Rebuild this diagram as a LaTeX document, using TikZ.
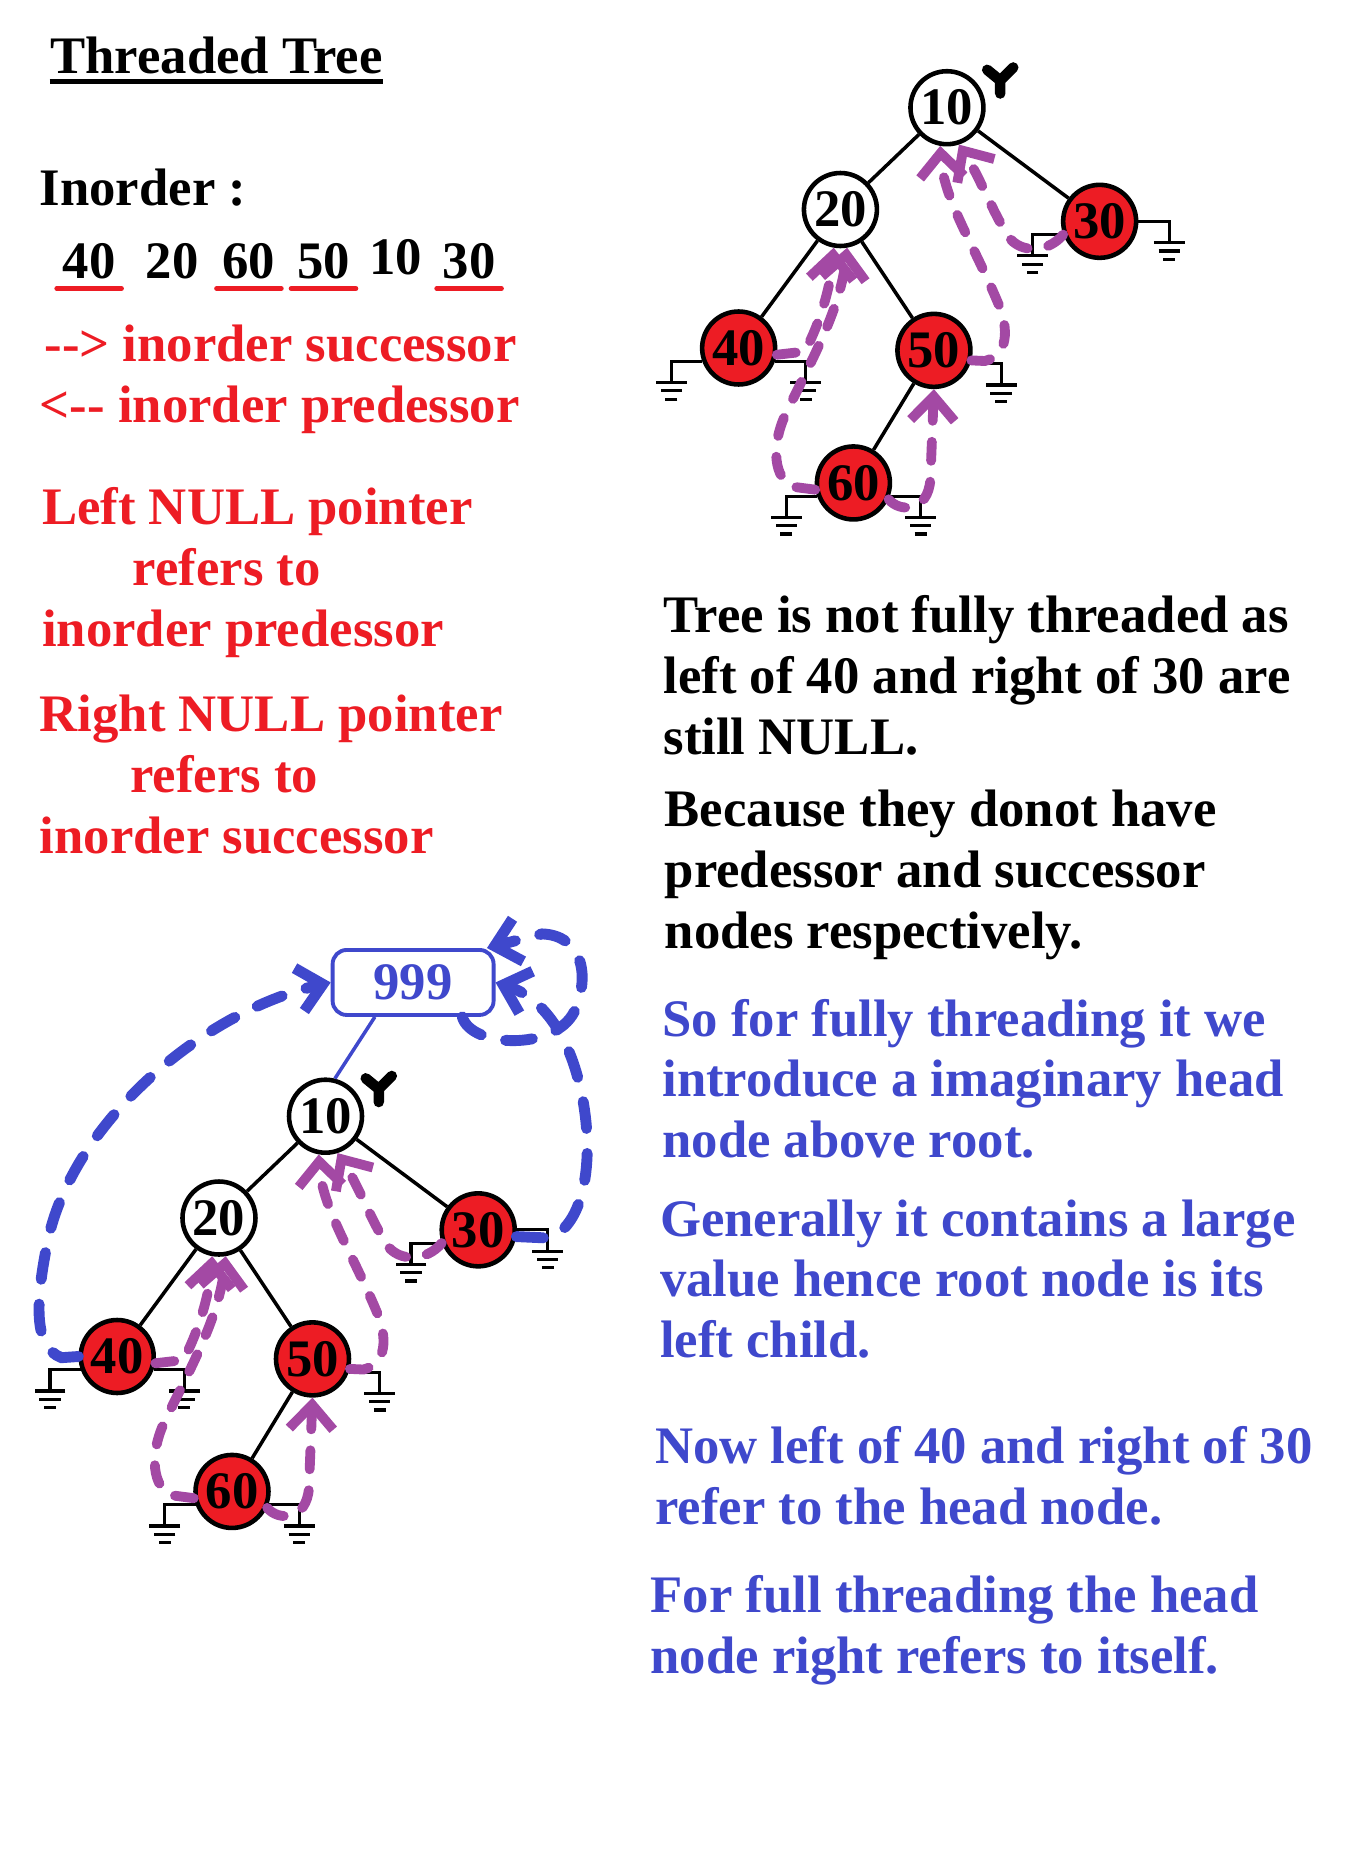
\documentclass[tikz,border=0pt]{standalone}
\usepackage{fontspec}
\setmainfont{Liberation Serif}
\usepackage{xcolor}
\usetikzlibrary{arrows.meta, positioning}

\definecolor{paintred}{HTML}{ED1C24}
\definecolor{paintblue}{HTML}{3F48CC}
\definecolor{paintpurple}{HTML}{A349A4}

\begin{document}
\begin{tikzpicture}[
    x=0.1184mm, y=-0.1184mm,
    font=\fontsize{15}{17.3}\selectfont\bfseries,
    whitenode/.style={circle, draw=black, line width=1.3pt, fill=white, minimum size=7.3mm, inner sep=0pt},
    rednode/.style={whitenode, fill=paintred},
    treeline/.style={draw=black, line width=1pt},
    thread/.style={draw=paintpurple, line width=2.8pt, line cap=round, dash pattern=on 1.9mm off 2.1mm, -{Straight Barb[length=2.4mm, width=4.4mm]}},
    headthread/.style={thread, draw=paintblue, line width=3.1pt, dash pattern=on 2.7mm off 2.5mm},
    headbox/.style={rectangle, draw=paintblue, line width=1.1pt, rounded corners=4pt, text=paintblue, minimum width=16.1mm, minimum height=6.5mm},
    txt/.style={anchor=base west, align=left, inner sep=0pt},
    numtxt/.style={anchor=base west, inner xsep=1.5pt, inner ysep=2.6pt},
    redline/.style={draw=paintred, line width=1.4pt, line cap=round},
    gnd/.pic={\draw[line width=0.9pt] (0,0) -- (26,0) -- (26,18) (13,18) -- (39,18) (17,25) -- (35,25) (21,32) -- (31,32);},
    ptr/.pic={\draw[line width=3pt, line cap=round, line join=round] (0,11) -- (0,0) -- (-11,-9) (0,0) -- (11,-11);}
]
    \path[use as bounding box] (0,0) rectangle (1136,1568);

    % Title and inorder
    \node[txt] (title) at (42,62) {Threaded Tree};
    \draw[line width=1.4pt] ([yshift=-2.2pt]title.base west) -- ([yshift=-2.2pt]title.base east);
    \node[txt] (inorder) at (33,174) {Inorder :};
    \node[numtxt] (in40) at (48,235) {40};
    \node[numtxt] (in20) at (118,235) {20};
    \node[numtxt] (in60) at (183,235) {60};
    \node[numtxt] (in50) at (246,235) {50};
    \node[numtxt] (in10) at (307,232) {10};
    \node[numtxt] (in30) at (369,235) {30};
    \draw[redline] (in40.south west) -- (in40.south east);
    \draw[redline] (in60.south west) -- (in60.south east);
    \draw[redline] (in50.south west) -- (in50.south east);
    \draw[redline] (in30.south west) -- (in30.south east);
    \node[txt, text=paintred] (succ) at (37,305) {-{}-> inorder successor};
    \node[txt, text=paintred] (pred) at (33,357) {<-{}- inorder predessor};

    % Null pointer rules (base = last line)
    \node[txt, text=paintred] (leftnull) at (35,546) {Left NULL pointer\\\hspace*{1.72em}refers to\\inorder predessor};
    \node[txt, text=paintred] (rightnull) at (33,721) {Right NULL pointer\\\hspace*{1.72em}refers to\\inorder successor};

    % Notes
    \node[txt] (notfull) at (560,637) {Tree is not fully threaded as\\left of 40 and right of 30 are\\still NULL.};
    \node[txt] (because) at (561,801) {Because they donot have\\predessor and successor\\nodes respectively.};
    \node[txt, text=paintblue] (headnote) at (559,978) {So for fully threading it we\\introduce a imaginary head\\node above root.};
    \node[txt, text=paintblue] (largenote) at (557,1147) {Generally it contains a large\\value hence root node is its\\left child.};
    \node[txt, text=paintblue] (nownote) at (553,1288) {Now left of 40 and right of 30\\refer to the head node.};
    \node[txt, text=paintblue] (selfnote) at (549,1414) {For full threading the head\\node right refers to itself.};

    % Partly threaded tree
    \node[whitenode] (t10) at (800,91) {10};
    \node[whitenode] (t20) at (710,177) {20};
    \node[rednode] (t30) at (929,187) {30};
    \node[rednode] (t40) at (624,294) {40};
    \node[rednode] (t50) at (789,296) {50};
    \node[rednode] (t60) at (721,408) {60};
    \draw[treeline] (t10) -- (t20) (t10) -- (t30) (t20) -- (t40) (t20) -- (t50) (t50) -- (t60);
    \pic at (845,68) {ptr};
    \pic[xscale=-1] at (t40.200) {gnd};
    \pic at (t40.-20) {gnd};
    \pic at (t50.-20) {gnd};
    \pic[xscale=-1] at (t60.200) {gnd};
    \pic at (t60.-20) {gnd};
    \pic[xscale=-1] at (t30.200) {gnd};
    \pic at (t30.0) {gnd};
    \draw[thread] (t40.-10) -- (680,297) .. controls (694,270) and (702,240) .. (t20.-100);
    \draw[thread] (t60.190) -- (668,411) .. controls (652,400) and (652,372) .. (666,345) .. controls (688,300) and (710,260) .. (t20.-80);
    \draw[thread] (t60.-25) .. controls (760,433) and (784,433) .. (786,405) -- (t50.-90);
    \draw[thread] (t50.-15) -- (832,305) .. controls (852,300) and (852,278) .. (844,258) .. controls (822,205) and (797,168) .. (t10.-100);
    \draw[thread] (t30.200) .. controls (885,214) and (862,214) .. (852,200) .. controls (838,178) and (828,150) .. (t10.-72);

    % Fully threaded tree with head node
    \begin{scope}[shift={(-525,852)}]
        \node[whitenode] (b10) at (800,91) {10};
        \node[whitenode] (b20) at (710,177) {20};
        \node[rednode] (b30) at (929,187) {30};
        \node[rednode] (b40) at (624,294) {40};
        \node[rednode] (b50) at (789,296) {50};
        \node[rednode] (b60) at (721,408) {60};
        \draw[treeline] (b10) -- (b20) (b10) -- (b30) (b20) -- (b40) (b20) -- (b50) (b50) -- (b60);
        \pic at (845,68) {ptr};
        \pic[xscale=-1] at (b40.200) {gnd};
        \pic at (b40.-20) {gnd};
        \pic at (b50.-20) {gnd};
        \pic[xscale=-1] at (b60.200) {gnd};
        \pic at (b60.-20) {gnd};
        \pic[xscale=-1] at (b30.200) {gnd};
        \pic at (b30.0) {gnd};
        \draw[thread] (b40.-10) -- (680,297) .. controls (694,270) and (702,240) .. (b20.-100);
        \draw[thread] (b60.190) -- (668,411) .. controls (652,400) and (652,372) .. (666,345) .. controls (688,300) and (710,260) .. (b20.-80);
        \draw[thread] (b60.-25) .. controls (760,433) and (784,433) .. (786,405) -- (b50.-90);
        \draw[thread] (b50.-15) -- (832,305) .. controls (852,300) and (852,278) .. (844,258) .. controls (822,205) and (797,168) .. (b10.-100);
        \draw[thread] (b30.200) .. controls (885,214) and (862,214) .. (852,200) .. controls (838,178) and (828,150) .. (b10.-72);
    \end{scope}

    \node[headbox] (b999) at (349,830) {999};
    \draw[paintblue, line width=1pt] (b999.-138) -- (b10.76);
    \draw[headthread] (b40.180) -- (52,1147) .. controls (28,1138) and (30,1100) .. (40,1050) .. controls (60,950) and (170,855) .. (b999.west);
    \draw[headthread] (b30.-10) -- (465,1046) .. controls (500,1030) and (502,960) .. (488,910) .. controls (475,862) and (450,840) .. (b999.east);
    \draw[headthread] (b999.-35) .. controls (398,885) and (468,888) .. (485,855) .. controls (500,822) and (490,790) .. (458,789) -- (b999.25);

\end{tikzpicture}
\end{document}
